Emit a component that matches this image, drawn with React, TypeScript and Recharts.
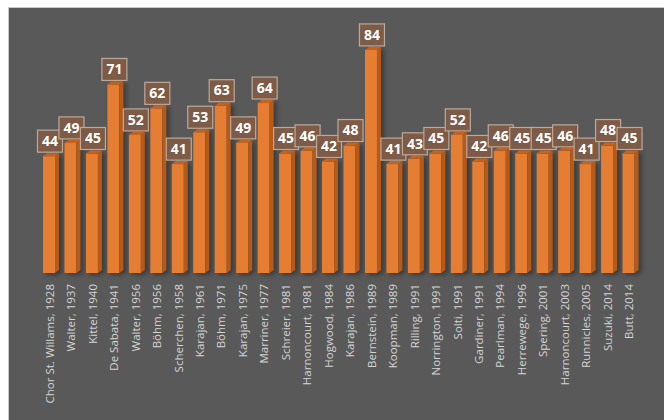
import React from "react";
import { BarChart, Bar, XAxis, YAxis, LabelList } from "recharts";

// recordings (conductor, year) and their durations
const recordings = [
	"Chor St. Willams, 1928",
	"Walter, 1937",
	"Kittel, 1940",
	"De Sabata, 1941",
	"Walter, 1956",
	"Böhm, 1956",
	"Scherchen, 1958",
	"Karajan, 1961",
	"Böhm, 1971",
	"Karajan, 1975",
	"Marriner, 1977",
	"Schreier, 1981",
	"Harnoncourt, 1981",
	"Hogwood, 1984",
	"Karajan, 1986",
	"Bernstein, 1989",
	"Koopman, 1989",
	"Rilling, 1991",
	"Norrington, 1991",
	"Solti, 1991",
	"Gardiner, 1991",
	"Pearlman, 1994",
	"Herrewege, 1996",
	"Spering, 2001",
	"Harnoncourt, 2003",
	"Runnicles, 2005",
	"Suzuki, 2014",
	"Butt, 2014",
];

const minutes = [44, 49, 45, 71, 52, 62, 41, 53, 63, 49, 64, 45, 46, 42, 48, 84, 41, 43, 45, 52, 42, 46, 45, 45, 46, 41, 48, 45];

const data = recordings.map((name, i) => ({ name, value: minutes[i] }));

const BG = "#595959";
const DEPTH = 4;

// fake 3D column: front face, right side and top
const Bar3D = (props: any) => {
	const { x, y, width, height } = props;
	if (!height || height <= 0) return null;
	const r = x + width;
	return (
		<g style={{ filter: "drop-shadow(3px 2px 2px rgba(0,0,0,0.35))" }}>
			<rect x={x} y={y} width={width} height={height} fill="#e57d32" />
			<polygon
				points={`${r},${y} ${r + DEPTH},${y - 3} ${r + DEPTH},${y + height - 3} ${r},${y + height}`}
				fill="#b65a19"
			/>
			<polygon
				points={`${x},${y} ${x + DEPTH},${y - 3} ${r + DEPTH},${y - 3} ${r},${y}`}
				fill="#c4631f"
			/>
		</g>
	);
};

const ValueBox = (props: any) => {
	const { x, y, width, value } = props;
	const cx = x + width / 2 + 1;
	const w = 25;
	const h = 22;
	const top = y - 4 - h;
	return (
		<g>
			<rect x={cx - w / 2} y={top} width={w} height={h} fill="#7d5b47" stroke="#bda99a" strokeWidth={1.2} />
			<text
				x={cx}
				y={top + h / 2 + 1}
				textAnchor="middle"
				dominantBaseline="middle"
				fill="#ffffff"
				fontSize={14}
				fontWeight="bold"
				fontFamily="'Open Sans', sans-serif"
			>
				{value}
			</text>
		</g>
	);
};

const NameTick = (props: any) => {
	const { x, y, payload } = props;
	return (
		<text
			transform={`translate(${x + 5},${y + 3}) rotate(-90)`}
			textAnchor="end"
			fill="#d4d4d4"
			fontSize={11.5}
			fontFamily="'Open Sans', sans-serif"
		>
			{payload.value}
		</text>
	);
};

export default function App() {
	return (
		<div style={{ position: "fixed", left: 0, top: 0, width: 664, height: 420, background: "#ffffff" }}>
			<div
				style={{
					position: "absolute",
					left: 8,
					top: 7,
					width: 656,
					height: 413,
					background: BG,
					borderLeft: "1px solid #c8c8c8",
					borderTop: "1px solid #c8c8c8",
				}}
			>
				<BarChart width={655} height={412} data={data} margin={{ top: 26, right: 25, left: 29, bottom: 0 }} barCategoryGap={0}>
					<XAxis
						dataKey="name"
						interval={0}
						axisLine={false}
						tickLine={false}
						height={147}
						tick={<NameTick />}
					/>
					<YAxis hide domain={[0, 90]} />
					<Bar dataKey="value" barSize={12} shape={<Bar3D />} isAnimationActive={false}>
						<LabelList dataKey="value" content={<ValueBox />} />
					</Bar>
				</BarChart>
			</div>
		</div>
	);
}
